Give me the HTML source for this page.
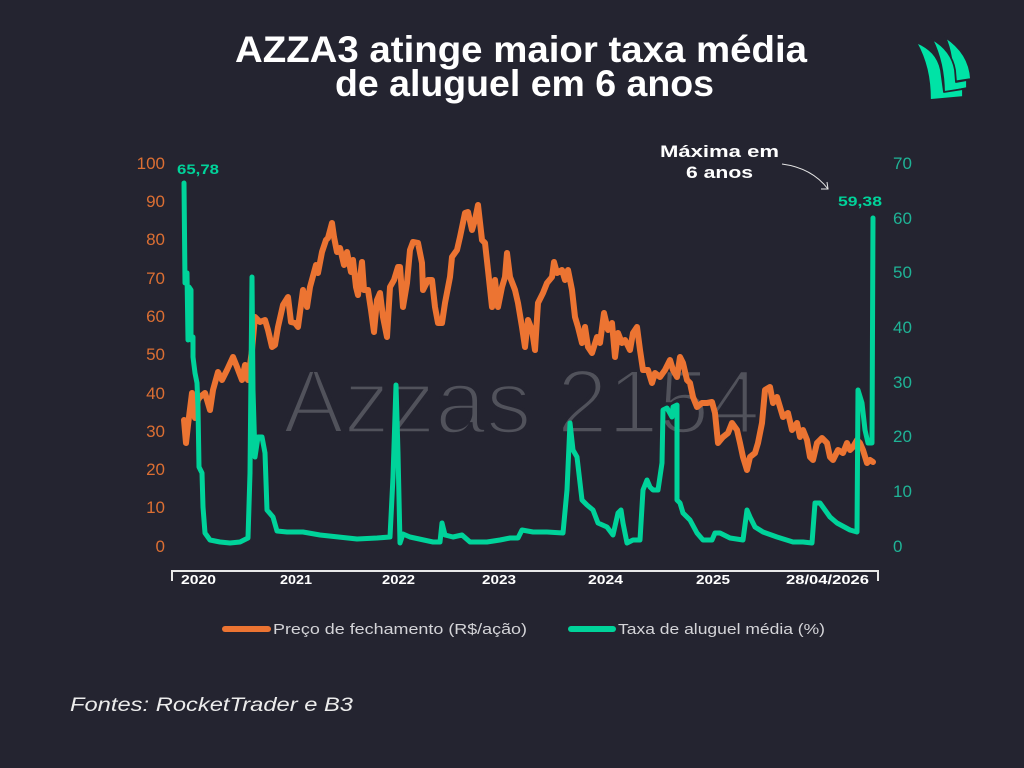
<!DOCTYPE html>
<html>
<head>
<meta charset="utf-8">
<style>
  html,body{margin:0;padding:0;background:#242430;}
  svg{display:block;}
</style>
</head>
<body>
<svg width="1024" height="768" viewBox="0 0 1024 768" xmlns="http://www.w3.org/2000/svg">
  <rect x="0" y="0" width="1024" height="768" fill="#242430"/>

  <!-- Title -->
  <text x="235" y="62" font-family="Liberation Sans, sans-serif" font-weight="bold" font-size="37" fill="#ffffff" textLength="572" lengthAdjust="spacingAndGlyphs">AZZA3 atinge maior taxa média</text>
  <text x="335" y="96" font-family="Liberation Sans, sans-serif" font-weight="bold" font-size="37" fill="#ffffff" textLength="379" lengthAdjust="spacingAndGlyphs">de aluguel em 6 anos</text>

  <!-- Logo -->
  <g fill="#00e3a6" stroke="#242430" stroke-width="1.8" stroke-linejoin="round">
    <path d="M945,37 C962,48 970,62 971,79 L952,82 C953,64 951,50 945,37 Z"/>
    <path d="M932,39 C946,47 953,58 955,70 L956,82 L967,80 L967,88 L944,93 C944,72 940,55 932,39 Z"/>
    <path d="M916,42 C930,48 938,56 941,70 L944,92 L963,89 L963,97 L930,100 C930,78 926,60 916,42 Z"/>
  </g>

  <!-- Watermark (thinned by overlaying background stroke) -->
  <text x="283" y="433" font-family="Liberation Sans, sans-serif" font-size="91" fill="#51525b" textLength="477" lengthAdjust="spacingAndGlyphs">Azzas 2154</text>
  <text x="283" y="433" font-family="Liberation Sans, sans-serif" font-size="91" fill="none" stroke="#242430" stroke-width="3.5" textLength="477" lengthAdjust="spacingAndGlyphs">Azzas 2154</text>

  <!-- Left axis labels -->
  <g font-family="Liberation Sans, sans-serif" font-size="17" fill="#dc6f33" text-anchor="end">
    <text x="165" y="169">100</text>
    <text x="165" y="207">90</text>
    <text x="165" y="245">80</text>
    <text x="165" y="284">70</text>
    <text x="165" y="322">60</text>
    <text x="165" y="360">50</text>
    <text x="165" y="399">40</text>
    <text x="165" y="437">30</text>
    <text x="165" y="475">20</text>
    <text x="165" y="513">10</text>
    <text x="165" y="552">0</text>
  </g>

  <!-- Right axis labels -->
  <g font-family="Liberation Sans, sans-serif" font-size="17" fill="#1fb396" text-anchor="start">
    <text x="893" y="169">70</text>
    <text x="893" y="224">60</text>
    <text x="893" y="278">50</text>
    <text x="893" y="333">40</text>
    <text x="893" y="388">30</text>
    <text x="893" y="442">20</text>
    <text x="893" y="497">10</text>
    <text x="893" y="552">0</text>
  </g>

  <!-- Orange series -->
  <polyline fill="none" stroke="#ec7432" stroke-width="6" stroke-linejoin="round" stroke-linecap="round"
    points="184,420 186,443 188,425 192,393 195,418 198,400 200,397 205,393 210,410 213,390 218,372 222,380 227,370 233,357 237,367 242,380 245,365 248,380 252,350 255,317 260,322 265,320 268,330 272,347 275,345 278,327 283,305 288,297 291,322 295,323 298,327 303,290 307,307 310,287 316,265 318,273 322,252 326,240 328,238 332,223 334,237 337,252 340,248 344,265 347,252 351,272 353,260 356,287 358,295 362,262 364,290 368,290 371,310 374,332 377,300 380,293 383,317 387,337 390,287 394,280 398,267 400,267 403,307 407,283 410,250 413,242 418,243 422,263 423,290 428,280 432,280 435,307 438,323 442,323 445,303 450,277 452,257 457,250 460,237 465,213 468,212 472,230 475,220 478,205 482,240 485,243 488,270 492,307 495,280 498,307 502,287 505,277 507,253 510,277 515,290 518,303 522,327 525,347 528,320 532,330 535,350 538,303 543,293 547,283 552,277 554,262 557,273 562,270 565,280 568,270 572,290 575,317 578,327 582,343 585,327 588,347 592,353 597,337 600,343 604,313 608,330 612,323 615,357 618,333 622,343 625,340 630,350 633,333 637,327 640,350 643,370 648,370 652,383 655,373 660,377 665,370 670,360 673,370 677,377 680,357 683,363 687,380 690,383 693,397 697,407 702,403 707,403 712,402 715,413 718,443 723,437 728,433 732,423 737,430 740,443 743,457 747,470 750,457 755,453 758,443 762,423 765,390 770,387 773,403 777,397 780,407 783,417 788,413 792,430 797,423 800,437 803,430 807,440 810,457 813,460 817,443 822,438 827,443 830,457 833,460 838,450 843,453 847,443 850,450 853,447 857,440 860,443 863,450 867,463 870,460 873,462"/>

  <!-- Green series -->
  <polyline fill="none" stroke="#00d39a" stroke-width="5" stroke-linejoin="round" stroke-linecap="round"
    points="184,183 185,283 187,273 188,340 189,287 191,290 191,340 193,337 193,357 195,373 197,383 198,407 199,467 202,473 203,507 205,533 210,540 220,542 230,543 240,542 248,538 250,473 252,277 253,390 255,457 258,437 262,437 265,453 267,510 273,517 277,531 287,532 303,532 320,535 357,539 377,538 390,537 393,477 396,385 398,453 400,543 403,534 410,537 433,542 440,542 442,523 445,535 453,537 462,535 470,542 487,542 500,540 510,538 518,538 522,530 533,532 547,532 563,533 567,490 570,423 573,450 577,457 582,500 587,505 593,510 598,523 607,527 613,535 618,513 621,510 623,523 627,543 633,540 640,540 643,490 647,480 650,487 653,490 658,490 662,463 663,410 667,408 672,417 673,407 677,405 677,500 680,503 683,513 690,520 697,533 703,540 712,540 715,533 720,533 730,538 743,540 747,510 750,517 755,527 763,532 777,537 793,542 803,542 812,543 815,503 820,503 830,517 837,523 850,530 857,532 858,390 862,403 865,430 868,443 872,443 873,218"/>

  <!-- Data labels -->
  <text x="177" y="174" font-family="Liberation Sans, sans-serif" font-weight="bold" font-size="14" fill="#00d39a" textLength="42" lengthAdjust="spacingAndGlyphs">65,78</text>
  <text x="838" y="206" font-family="Liberation Sans, sans-serif" font-weight="bold" font-size="14" fill="#00d39a" textLength="44" lengthAdjust="spacingAndGlyphs">59,38</text>

  <!-- Annotation -->
  <text x="660" y="157" font-family="Liberation Sans, sans-serif" font-weight="bold" font-size="17" fill="#ffffff" textLength="119" lengthAdjust="spacingAndGlyphs">Máxima em</text>
  <text x="686" y="178" font-family="Liberation Sans, sans-serif" font-weight="bold" font-size="17" fill="#ffffff" textLength="67" lengthAdjust="spacingAndGlyphs">6 anos</text>
  <path d="M782,164 Q812,168 828,189" fill="none" stroke="#e6e6e6" stroke-width="1"/>
  <path d="M821,189 L828,189 L827,182" fill="none" stroke="#e6e6e6" stroke-width="1"/>

  <!-- X axis -->
  <path d="M172,581 L172,571 L878,571 L878,581" fill="none" stroke="#e8e8e8" stroke-width="2"/>
  <g font-family="Liberation Sans, sans-serif" font-weight="bold" font-size="13" fill="#ffffff">
    <text x="181" y="584" textLength="35" lengthAdjust="spacingAndGlyphs">2020</text>
    <text x="280" y="584" textLength="32" lengthAdjust="spacingAndGlyphs">2021</text>
    <text x="382" y="584" textLength="33" lengthAdjust="spacingAndGlyphs">2022</text>
    <text x="482" y="584" textLength="34" lengthAdjust="spacingAndGlyphs">2023</text>
    <text x="588" y="584" textLength="35" lengthAdjust="spacingAndGlyphs">2024</text>
    <text x="696" y="584" textLength="34" lengthAdjust="spacingAndGlyphs">2025</text>
    <text x="786" y="584" textLength="83" lengthAdjust="spacingAndGlyphs">28/04/2026</text>
  </g>

  <!-- Legend -->
  <line x1="225" y1="629" x2="268" y2="629" stroke="#ec7432" stroke-width="6" stroke-linecap="round"/>
  <text x="273" y="634" font-family="Liberation Sans, sans-serif" font-size="15" fill="#d4d4d8" textLength="254" lengthAdjust="spacingAndGlyphs">Preço de fechamento (R$/ação)</text>
  <line x1="571" y1="629" x2="613" y2="629" stroke="#00d39a" stroke-width="6" stroke-linecap="round"/>
  <text x="618" y="634" font-family="Liberation Sans, sans-serif" font-size="15" fill="#d4d4d8" textLength="207" lengthAdjust="spacingAndGlyphs">Taxa de aluguel média (%)</text>

  <!-- Footer -->
  <text x="70" y="711" font-family="Liberation Sans, sans-serif" font-style="italic" font-size="19" fill="#ececec" textLength="283" lengthAdjust="spacingAndGlyphs">Fontes: RocketTrader e B3</text>
</svg>
</body>
</html>
